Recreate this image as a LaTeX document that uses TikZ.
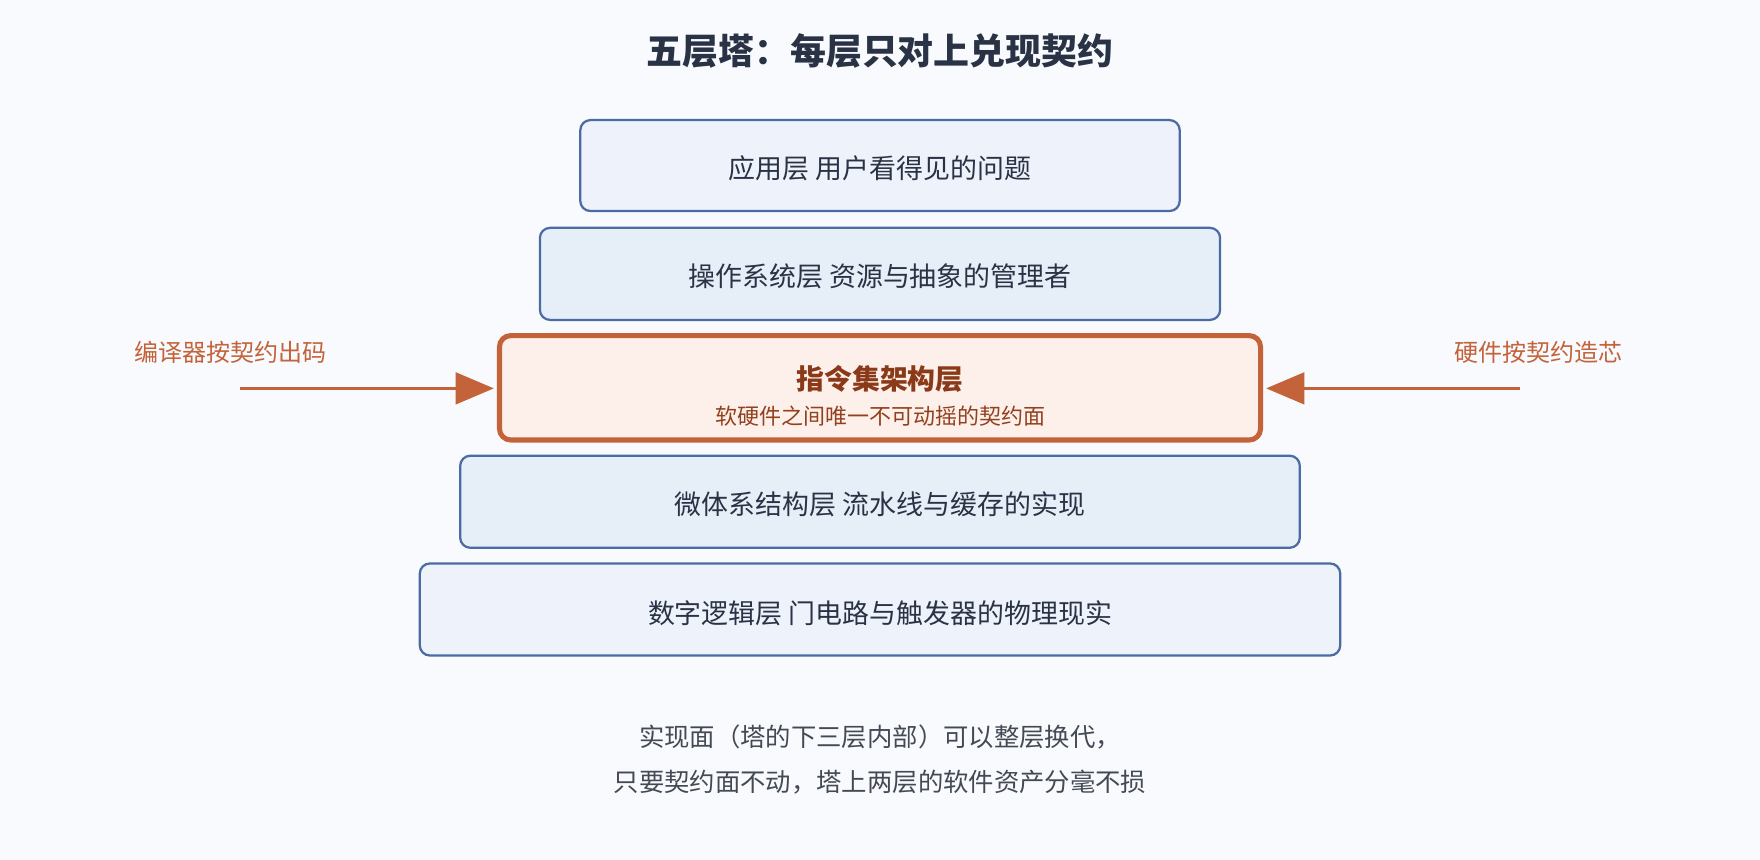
\documentclass[tikz,border=0pt]{standalone}
\usepackage{fontspec}
\setmainfont{Noto Sans CJK SC}
\usetikzlibrary{arrows.meta}
\definecolor{bg}{HTML}{F8FAFD}
\definecolor{bfill}{HTML}{EEF2FA}
\definecolor{bfill2}{HTML}{E6EEF8}
\definecolor{bline}{HTML}{4A6BA3}
\definecolor{ofill}{HTML}{FDF0EA}
\definecolor{oline}{HTML}{C4623A}
\definecolor{txt}{HTML}{2A3345}
\definecolor{otxt}{HTML}{8A3A18}
\definecolor{gtxt}{HTML}{444A55}
\begin{document}
\begin{tikzpicture}[x=1pt,y=-1pt,
  layer/.style={draw=bline,line width=2pt,rounded corners=9pt},
  ltxt/.style={text=txt,font=\fontsize{24}{28}\selectfont},
  side/.style={text=oline,font=\fontsize{21.4}{25}\selectfont},
  arr/.style={draw=oline,line width=3pt,-{Triangle[length=34pt,width=28pt]}}]
\fill[bg] (0,0) rectangle (1568,766);
\node[text=txt,font=\fontsize{32}{36}\selectfont\bfseries] (title) at (784,45) {五层塔：每层只对上兑现契约};
\draw[layer,fill=bfill] (517,107) rectangle (1051,188);
\node[ltxt] (l1) at (784,150) {应用层 用户看得见的问题};
\draw[layer,fill=bfill2] (481,203) rectangle (1087,285);
\node[ltxt] (l2) at (784,246) {操作系统层 资源与抽象的管理者};
\draw[draw=oline,line width=4.5pt,rounded corners=10pt,fill=ofill] (445,299) rectangle (1123,392);
\coordinate (isaL) at (445,346);
\coordinate (isaR) at (1123,346);
\node[text=otxt,font=\fontsize{24.8}{28}\selectfont\bfseries] (l3) at (784,338) {指令集架构层};
\node[text=otxt!85!oline,font=\fontsize{19.6}{23}\selectfont] (l3s) at (784,371) {软硬件之间唯一不可动摇的契约面};
\draw[layer,fill=bfill2] (410,406) rectangle (1158,488);
\node[ltxt] (l4) at (784,449) {微体系结构层 流水线与缓存的实现};
\draw[layer,fill=bfill] (374,502) rectangle (1194,584);
\node[ltxt] (l5) at (784,546) {数字逻辑层 门电路与触发器的物理现实};
\node[side] (cl) at (205,314) {编译器按契约出码};
\node[side] (cr) at (1371,314) {硬件按契约造芯};
\coordinate (al) at (214,346);
\coordinate (ar) at (1354,346);
\draw[arr] (al) -- ([xshift=-5pt]isaL);
\draw[arr] (ar) -- ([xshift=5pt]isaR);
\node[text=gtxt,font=\fontsize{22.6}{26}\selectfont] (n1) at (784,657) {实现面（塔的下三层内部）可以整层换代，};
\node[text=gtxt,font=\fontsize{22.6}{26}\selectfont] (n2) at (784,697) {只要契约面不动，塔上两层的软件资产分毫不损};
\end{tikzpicture}
\end{document}
